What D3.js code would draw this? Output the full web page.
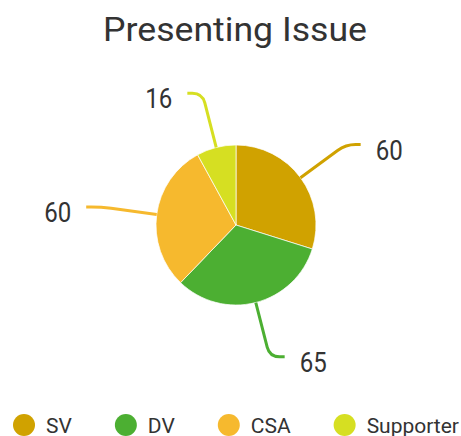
<!DOCTYPE html>
<html>
<head>
<meta charset="utf-8">
<script src="https://cdn.jsdelivr.net/npm/d3@7"></script>
<style>
  html, body { margin: 0; padding: 0; background: #fff; }
  svg { display: block; }
  text { font-family: Roboto, "Noto Sans", sans-serif; fill: #333; }
</style>
</head>
<body>
<svg id="chart" width="461" height="436"></svg>
<script>
// Presenting issue counts
const categories = ["SV", "DV", "CSA", "Supporter"];
const values = [60, 65, 60, 16];
const colors = ["#d0a200", "#4caf32", "#f6b92e", "#d6df22"];
const title = "Presenting Issue";

const W = 461, H = 436;
const cx = 236, cy = 225, R = 80;

const svg = d3.select("#chart");

// text helper: text placed at (x, y) with an optional horizontal stretch
function label(parent, x, y, str, size, anchor, sx) {
  return parent.append("text")
    .attr("transform", `translate(${x},${y}) scale(${sx || 1},1)`)
    .attr("text-anchor", anchor || "start")
    .style("font-size", size + "px")
    .text(str);
}

// Title
label(svg, cx - 1, 41, title, 33, "middle", 1.08);

const data = categories.map((c, i) => ({ name: c, value: values[i], color: colors[i] }));
const pie = d3.pie().sort(null).value(d => d.value);
const arcs = pie(data);
const arc = d3.arc().innerRadius(0).outerRadius(R);

const g = svg.append("g").attr("transform", `translate(${cx},${cy})`);

g.selectAll("path.slice")
  .data(arcs)
  .join("path")
  .attr("class", "slice")
  .attr("d", arc)
  .attr("fill", d => d.data.color)
  .attr("stroke", "rgba(255,255,255,0.7)")
  .attr("stroke-width", 1);

// Leader lines: radial segment, rounded bend, short horizontal run
const lineLen = 56, runLen = 15, bend = 10, gap = 15;
arcs.forEach(d => {
  const a = (d.startAngle + d.endAngle) / 2;
  const sx = Math.sin(a), sy = -Math.cos(a);
  const p0 = [R * sx, R * sy];
  const p1 = [(R + lineLen) * sx, (R + lineLen) * sy];
  const dir = sx >= 0 ? 1 : -1;
  const p2 = [p1[0] + dir * runLen, p1[1]];
  const b1 = [p1[0] - bend * sx, p1[1] - bend * sy];
  const b2 = [p1[0] + dir * Math.min(bend, runLen - 2), p1[1]];
  const path = d3.path();
  path.moveTo(p0[0], p0[1]);
  path.lineTo(b1[0], b1[1]);
  path.quadraticCurveTo(p1[0], p1[1], b2[0], b2[1]);
  path.lineTo(p2[0], p2[1]);
  g.append("path")
    .attr("d", path.toString())
    .attr("fill", "none")
    .attr("stroke", d.data.color)
    .attr("stroke-width", 3)
    .attr("stroke-linecap", "butt");
  label(g, p2[0] + dir * gap, p2[1] + 15, d.data.value, 28, dir > 0 ? "start" : "end", 0.86);
});

// Legend, centred under the pie
const legend = svg.append("g");
const r = 11, textGap = 11, itemGap = 43;
let x = 0;
data.forEach(d => {
  const item = legend.append("g").attr("transform", `translate(${x},0)`);
  item.append("circle").attr("cx", r).attr("cy", 0).attr("r", r).attr("fill", d.color);
  const t = label(item, 2 * r + textGap, 7.5, d.name, 21, "start");
  const w = t.node().getComputedTextLength();
  x += 2 * r + textGap + w + itemGap;
});
const total = x - itemGap;
legend.attr("transform", `translate(${cx - total / 2},425)`);
</script>
</body>
</html>
